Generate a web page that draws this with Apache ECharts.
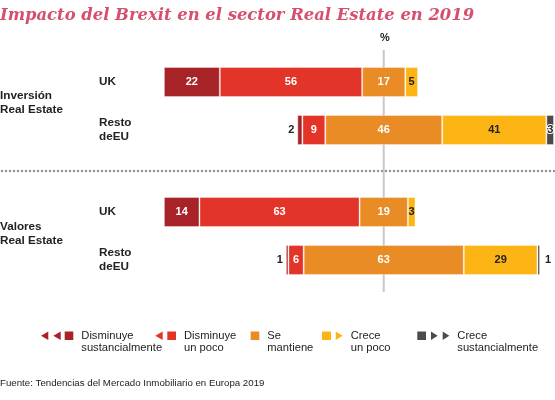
<!DOCTYPE html>
<html>
<head>
<meta charset="utf-8">
<script src="https://cdn.jsdelivr.net/npm/echarts@6/dist/echarts.min.js"></script>
<style>
html, body { margin: 0; padding: 0; background: #fff; }
#chart { width: 555px; height: 400px; }
</style>
</head>
<body>
<div id="chart"></div>
<script>
const rows = ['UK', 'Resto\ndeEU'];
const groupLabels = ['Inversión\nReal Estate', 'Valores\nReal Estate'];
const levelNames = ['Disminuye\nsustancialmente', 'Disminuye\nun poco', 'Se\nmantiene', 'Crece\nun poco', 'Crece\nsustancialmente'];
const levelColors = ['#a82328', '#e23428', '#ea8c25', '#fdb515', '#4b4b4b'];

// Inversión Real Estate (UK, Resto deEU)
const invDismSust = [22, 2];
const invDismPoco = [56, 9];
const invMantiene = [17, 46];
const invCrecePoco = [5, 41];
const invCreceSust = [0, 3];
// Valores Real Estate (UK, Resto deEU)
const valDismSust = [14, 1];
const valDismPoco = [63, 6];
const valMantiene = [19, 63];
const valCrecePoco = [3, 29];
const valCreceSust = [0, 1];

const xMin = -90, xMax = 67;
const font = 'Liberation Sans, Arial, sans-serif';

// legend icons: triangles + square, one legend per level
const legendIcons = [
    'path://M0,4.25L7.3,0L7.3,8.5Z M12.3,4.25L19.7,0L19.7,8.5Z M23.7,0L32.3,0L32.3,8.5L23.7,8.5Z',
    'path://M0,4.25L7.4,0L7.4,8.5Z M12,0L20.7,0L20.7,8.5L12,8.5Z',
    'path://M0,0L8.6,0L8.6,8.5L0,8.5Z',
    'path://M0,0L9,0L9,8.5L0,8.5Z M13.7,0L20.7,4.25L13.7,8.5Z',
    'path://M0,0L8.7,0L8.7,8.5L0,8.5Z M13.7,0L20.4,4.25L13.7,8.5Z M25.4,0L32,4.25L25.4,8.5Z'
];
const legendWidths = [32.3, 20.7, 8.6, 20.7, 32];
const legendLefts = [41, 155.3, 250.7, 322, 417.3];

function labelFor(level, v) {
    if (v === 0) return {show: false};
    if (level === 0 && v < 5) return {position: 'left', distance: 3, color: '#222'};
    if (level === 4 && v < 2) return {position: 'right', distance: 5, color: '#222'};
    if (level === 4) return {position: 'inside', color: '#222', textBorderColor: '#fff', textBorderWidth: 2};
    if (level === 3) return {position: 'inside', color: '#222'};
    return {position: 'inside', color: '#fff'};
}

function groupSeries(data, idx) {
    // neutral level is centred on 0, so shift each row left by its negative half
    const offset = data[0].map((v, i) => -(v + data[1][i] + data[2][i] / 2));
    const list = [{
        type: 'bar', xAxisIndex: idx, yAxisIndex: idx,
        stack: 'g' + idx, stackStrategy: 'all', barWidth: 30, silent: true,
        itemStyle: {color: 'transparent'},
        data: offset
    }];
    data.forEach(function (vals, level) {
        list.push({
            name: levelNames[level], type: 'bar', xAxisIndex: idx, yAxisIndex: idx,
            stack: 'g' + idx, stackStrategy: 'all', barWidth: 30,
            itemStyle: {color: levelColors[level], borderColor: 'rgba(255,255,255,0.35)', borderWidth: 1},
            label: {show: true, fontSize: 11, fontWeight: 'bold', fontFamily: font},
            data: vals.map(v => ({
                value: v,
                label: labelFor(level, v),
                itemStyle: v === 0 ? {borderWidth: 0} : {}
            }))
        });
    });
    return list;
}

const chart = echarts.init(document.getElementById('chart'));

const grids = [
    {left: 155, right: 1, top: 58, height: 96},
    {left: 155, right: 1, top: 188, height: 96},
    {left: 155, right: 1, top: 50, height: 242}  // centre line
];

const xAxes = grids.map((g, i) => ({
    type: 'value', gridIndex: i, min: xMin, max: xMax, show: false
}));
const yAxes = [0, 1].map(i => ({
    type: 'category', gridIndex: i, data: rows, inverse: true,
    axisLine: {show: false}, axisTick: {show: false},
    axisLabel: {align: 'left', margin: 56, color: '#222', fontSize: 11.7, fontWeight: 'bold', fontFamily: font, lineHeight: 14}
}));
yAxes.push({type: 'value', gridIndex: 2, min: 0, max: 1, show: false});

// empty first line keeps the first text line level with the icon
const legends = levelNames.map((name, i) => ({
    data: [name],
    left: legendLefts[i] - 5,
    top: 312,
    selectedMode: false,
    icon: legendIcons[i],
    itemWidth: legendWidths[i],
    itemHeight: 8.5,
    itemStyle: {borderWidth: 0},
    formatter: n => '\n' + n,
    textStyle: {fontSize: 11.2, fontFamily: font, color: '#222', lineHeight: 12.5, padding: [0, 0, 0, 3]}
}));

const series = groupSeries([invDismSust, invDismPoco, invMantiene, invCrecePoco, invCreceSust], 0)
    .concat(groupSeries([valDismSust, valDismPoco, valMantiene, valCrecePoco, valCreceSust], 1));
series.push({
    type: 'line', xAxisIndex: 2, yAxisIndex: 2, z: 1, silent: true, symbol: 'none',
    lineStyle: {color: '#c5c8cc', width: 2},
    data: [[0, 0], [0, 1]]
});

chart.setOption({
    animation: false,
    title: {
        text: 'Impacto del Brexit en el sector Real Estate en 2019',
        left: 0, top: 8, padding: 0,
        textStyle: {fontFamily: 'DejaVu Serif', fontStyle: 'italic', fontWeight: 'bold', fontSize: 16.4, color: '#d6506e'}
    },
    legend: legends,
    grid: grids,
    xAxis: xAxes,
    yAxis: yAxes,
    series: series,
    graphic: [
        {type: 'text', x: 385, y: 38, style: {text: '%', align: 'center', verticalAlign: 'middle', font: 'bold 11px ' + font, fill: '#222'}},
        {type: 'text', x: 0, y: 102.5, style: {text: groupLabels[0], verticalAlign: 'middle', font: 'bold 11.7px ' + font, lineHeight: 13.6, fill: '#222'}},
        {type: 'text', x: 0, y: 233.5, style: {text: groupLabels[1], verticalAlign: 'middle', font: 'bold 11.7px ' + font, lineHeight: 13.6, fill: '#222'}},
        {type: 'line', shape: {x1: 2, y1: 171, x2: 555, y2: 171}, style: {stroke: '#8f959b', lineWidth: 2.5, lineDash: [0, 4], lineCap: 'round'}},
        {type: 'text', x: 0, y: 383.3, style: {text: 'Fuente: Tendencias del Mercado Inmobiliario en Europa 2019', verticalAlign: 'middle', font: '9.7px ' + font, fill: '#222'}}
    ]
});
</script>
</body>
</html>
